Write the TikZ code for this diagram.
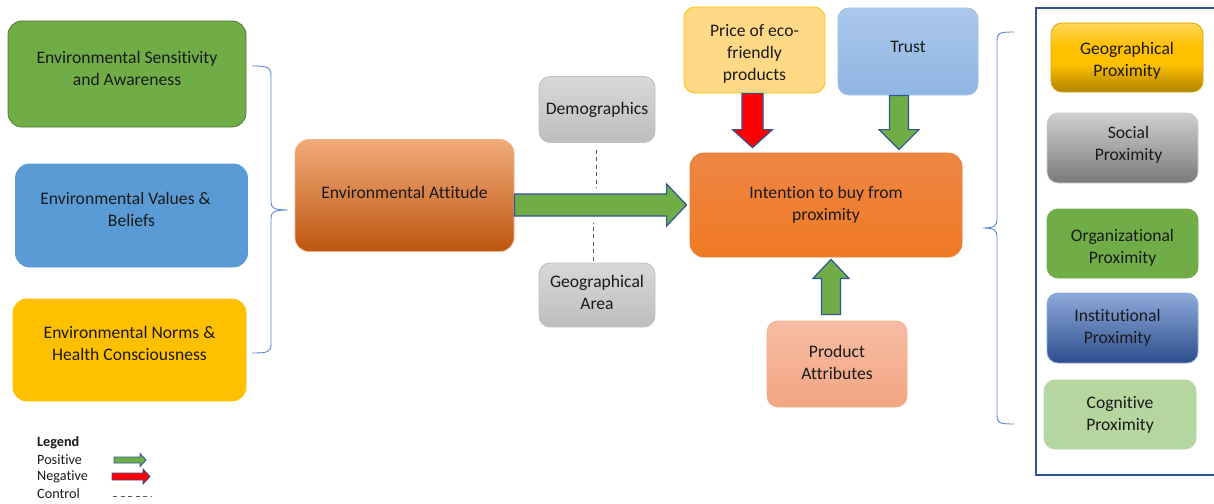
\documentclass[tikz,border=0pt]{standalone}
\usepackage{fontspec}
\setmainfont{Carlito}[Ligatures=CommonOff]
\usetikzlibrary{calc}
\definecolor{cgreen}{HTML}{70AD47}
\definecolor{cblue}{HTML}{5B9BD5}
\definecolor{cyellow}{HTML}{FFC000}
\definecolor{outl}{HTML}{2F5597}
\definecolor{brc}{HTML}{5A86D4}
\definecolor{txt}{HTML}{1A1A1A}
\definecolor{attT}{HTML}{F2AB7A}
\definecolor{attM}{HTML}{EA8138}
\definecolor{attB}{HTML}{BD5610}
\definecolor{attD}{HTML}{F4B183}
\definecolor{grT}{HTML}{D8D8D8}
\definecolor{grB}{HTML}{BEBEBE}
\definecolor{grD}{HTML}{C0C0C0}
\definecolor{intT}{HTML}{EE8644}
\definecolor{intB}{HTML}{F07A24}
\definecolor{intD}{HTML}{ED7D31}
\definecolor{priceF}{HTML}{FFD986}
\definecolor{trT}{HTML}{ABC8EC}
\definecolor{trB}{HTML}{8FB5E2}
\definecolor{trD}{HTML}{9DC3E6}
\definecolor{prT}{HTML}{F6BCA3}
\definecolor{prB}{HTML}{F3A583}
\definecolor{prD}{HTML}{F4B183}
\definecolor{gpT}{HTML}{FFD65B}
\definecolor{gpM}{HTML}{DCA600}
\definecolor{gpB}{HTML}{B08500}
\definecolor{spT}{HTML}{CFCFCF}
\definecolor{spB}{HTML}{7A7A7A}
\definecolor{ipT}{HTML}{8EAADB}
\definecolor{ipM}{HTML}{4472C4}
\definecolor{ipB}{HTML}{2B4E8C}
\definecolor{cpF}{HTML}{B6D6A0}
\pgfdeclareverticalshading{gpshade}{100bp}{color(0bp)=(gpB); color(25bp)=(gpB); color(37bp)=(gpM); color(45bp)=(cyellow); color(58bp)=(cyellow); color(75bp)=(gpT); color(100bp)=(gpT)}
\newcommand{\blockarrow}[6]{%
  \coordinate (ba-h) at ($(#3)!#6!(#2)$);
  \filldraw[#1] ($(#2)!#4!90:(#3)$) -- ($(ba-h)!#4!-90:(#2)$) -- ($(ba-h)!#5!-90:(#2)$) -- (#3)
    -- ($(ba-h)!#5!90:(#2)$) -- ($(ba-h)!#4!90:(#2)$) -- ($(#2)!#4!-90:(#3)$) -- cycle;}
\begin{document}
\begin{tikzpicture}[x=1pt,y=-1pt,
  every node/.style={text=txt, font=\fontsize{17.6}{22}\selectfont},
  box/.style={rounded corners=14pt, align=center, inner sep=0pt, line width=0.8pt},
  sbox/.style={box, rounded corners=11pt},
  legtxt/.style={anchor=west, inner sep=0pt, font=\fontsize{14.2}{17}\selectfont},
  posarrow/.style={fill=cgreen, draw=outl, line width=1.2pt, line join=miter},
  negarrow/.style={fill=red, draw=outl, line width=1.2pt, line join=miter},
  control/.style={dashed, dash pattern=on 4pt off 3.5pt, draw=black!65, line width=0.8pt},
  bracestyle/.style={draw=brc, line width=0.9pt}
]
\useasboundingbox (0,0) rectangle (1214,503);

% left boxes
\node[box, minimum width=238pt, minimum height=106pt, fill=cgreen, draw=cgreen!70!black] (sens) at (127,74)
  {Environmental Sensitivity\\and Awareness\\[-10pt]};
\node[box, minimum width=232pt, minimum height=103pt, fill=cblue, draw=cblue] (vals) at (131.5,215.5)
  {Environmental Values \&\hspace*{12pt}\\Beliefs\hspace*{12pt}\\[-10pt]};
\node[box, minimum width=233pt, minimum height=102pt, fill=cyellow, draw=cyellow] (norms) at (129.5,350)
  {Environmental Norms \&\\Health Consciousness\\[-8pt]};

% left brace
\draw[bracestyle] (252,66) .. controls (268,66) and (271,67) .. (271,76) -- (271,202)
  .. controls (271,208) and (274,210) .. (288,210)
  .. controls (274,210) and (271,212) .. (271,218) -- (271,344)
  .. controls (271,352) and (268,353) .. (252,353);

% attitude
\node[box, minimum width=219pt, minimum height=112pt, top color=attT, middle color=attM, bottom color=attB, draw=attD] (att) at (404.5,195.5)
  {Environmental Attitude\\[-15pt]};

% controls
\node[sbox, minimum width=116pt, minimum height=66pt, top color=grT, bottom color=grB, draw=grD] (demo) at (597,109.5)
  {Demographics};
\node[sbox, minimum width=116pt, minimum height=64pt, top color=grT, bottom color=grB, draw=grD] (geoa) at (597,295)
  {Geographical\\Area\\[-16pt]};

% intention
\node[box, minimum width=272pt, minimum height=104pt, top color=intT, bottom color=intB, draw=intD] (int) at (826,205)
  {Intention to buy from\\proximity};

% price, trust, product
\node[sbox, minimum width=141pt, minimum height=86pt, fill=priceF, draw=cyellow] (price) at (754.5,50)
  {Price of eco-\\friendly\\products\\[-27pt]};
\node[sbox, minimum width=140pt, minimum height=87pt, top color=trT, bottom color=trB, draw=trD] (trust) at (908,51.5)
  {Trust\\[-12pt]};
\node[sbox, minimum width=140pt, minimum height=86pt, top color=prT, bottom color=prB, draw=prD] (prod) at (837,364)
  {Product\\Attributes\\[-18pt]};

% right frame
\draw[outl, line width=1.5pt] (1036,8) rectangle (1240,475);

% right boxes
\node[sbox, minimum width=152pt, minimum height=69pt, shade, shading=gpshade, draw=cyellow!85!black] (gp) at (1127,57.5)
  {Geographical\\Proximity\\[-25pt]};
\node[sbox, minimum width=151pt, minimum height=70pt, top color=spT, bottom color=spB, draw=spT] (sp) at (1122.5,148)
  {\hspace{12pt}Social\\\hspace{12pt}Proximity\\[-12pt]};
\node[sbox, minimum width=151pt, minimum height=69pt, fill=cgreen, draw=cgreen] (op) at (1122.5,243.5)
  {Organizational\\Proximity\\[-27pt]};
\node[sbox, minimum width=151pt, minimum height=70pt, top color=ipT, middle color=ipM, bottom color=ipB, draw=ipT] (ip) at (1122.5,328)
  {Institutional\hspace*{10pt}\\Proximity\hspace*{10pt}};
\node[sbox, minimum width=152pt, minimum height=69pt, fill=cpF, draw=cpF] (cp) at (1120,414.5)
  {Cognitive\\Proximity};

% right brace
\draw[bracestyle] (1014,32) .. controls (999,32) and (997,33) .. (997,41) -- (997,219)
  .. controls (997,226) and (994,228) .. (983,228)
  .. controls (994,228) and (997,230) .. (997,237) -- (997,415)
  .. controls (997,423) and (999,424) .. (1014,424);

% arrows
\coordinate (a1s) at (att.east |- int.west);
\coordinate (a1e) at ($(int.west)+(-3,0)$);
\blockarrow{posarrow}{a1s}{a1e}{11pt}{21pt}{20pt}

\coordinate (a2s) at ($(price.south)+(-2,0)$);
\coordinate (a2e) at ($(a2s |- int.north)+(0,-5)$);
\blockarrow{negarrow}{a2s}{a2e}{10.5pt}{20pt}{18pt}

\coordinate (a3s) at ($(trust.south)+(-9,0)$);
\coordinate (a3e) at ($(a3s |- int.north)+(0,-3)$);
\blockarrow{posarrow}{a3s}{a3e}{9.5pt}{20pt}{20pt}

\coordinate (a4s) at ($(prod.north)+(-6,-6)$);
\coordinate (a4e) at ($(a4s |- int.south)+(0,2)$);
\blockarrow{posarrow}{a4s}{a4e}{9.5pt}{18pt}{19pt}

% control dashes
\draw[control] ($(demo.south)+(-1,7)$) -- ($(demo.south)+(-1,45)$);
\draw[control] ($(geoa.north)+(-4,-2)$) -- ($(geoa.north)+(-4,-40)$);

% legend
\node[legtxt, font=\fontsize{14.2}{17}\selectfont\bfseries] (leg) at (37,443) {Legend};
\node[legtxt] (pos) at (37,460) {Positive};
\node[legtxt] (neg) at (37,477) {Negative};
\node[legtxt] (ctl) at (37,494) {Control};
\coordinate (lp1) at (114,460);
\coordinate (lp2) at (146,460);
\blockarrow{posarrow, line width=0.9pt}{lp1}{lp2}{3pt}{6.5pt}{6pt}
\coordinate (ln1) at (112,476.5);
\coordinate (ln2) at (150,476.5);
\blockarrow{negarrow, line width=0.9pt}{ln1}{ln2}{3.5pt}{7.5pt}{7pt}
\coordinate (lc1) at (113,496);
\coordinate (lc2) at (152,496);
\draw[control] (lc1) -- (lc2);
\end{tikzpicture}
\end{document}
